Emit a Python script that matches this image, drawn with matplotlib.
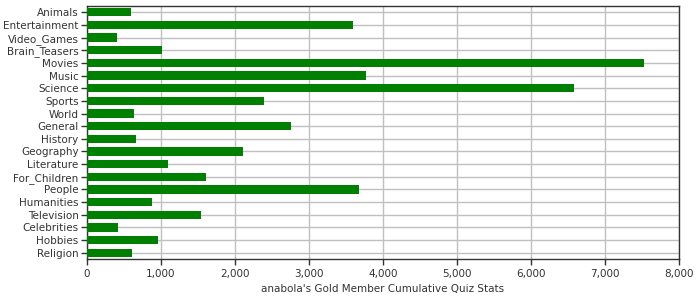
import matplotlib
matplotlib.use('Agg')
from matplotlib import pyplot as plt
from matplotlib.ticker import FuncFormatter

categories = ['Animals', 'Entertainment', 'Video_Games', 'Brain_Teasers', 'Movies',
              'Music', 'Science', 'Sports', 'World', 'General', 'History', 'Geography',
              'Literature', 'For_Children', 'People', 'Humanities', 'Television',
              'Celebrities', 'Hobbies', 'Religion']
values = [590, 3590, 405, 1009, 7527, 3766, 6581, 2392, 631, 2757, 658, 2108,
          1095, 1608, 3671, 878, 1541, 419, 959, 608]
x_ticks = [0, 1000, 2000, 3000, 4000, 5000, 6000, 7000, 8000]
x_label = "anabola's Gold Member Cumulative Quiz Stats"

TEXT = '#333333'
GRID = '#c0c0c0'
FS = 7.5

fig = plt.figure(figsize=(7, 3), dpi=100)
ax = fig.add_axes([87 / 700, 41 / 300, 592 / 700, 253 / 300])

pos = list(range(len(categories)))
ax.barh(pos, values, height=0.66, color='#008000', zorder=3)

ax.set_xlim(0, 8000)
ax.set_ylim(len(categories) - 0.5, -0.5)
ax.set_xticks(x_ticks)
ax.xaxis.set_major_formatter(FuncFormatter(lambda v, p: f'{int(v):,}'))
ax.set_yticks(pos)
ax.set_yticklabels(categories)

ax.grid(True, color=GRID, linewidth=1, zorder=0)
ax.set_axisbelow(True)
for s in ax.spines.values():
    s.set_color(TEXT)
    s.set_linewidth(1)
ax.tick_params(colors=TEXT, labelcolor=TEXT, labelsize=FS, length=4, width=1, pad=2)
ax.tick_params(axis='x', pad=3)
ax.set_xlabel(x_label, fontsize=FS, color=TEXT, labelpad=4)

fig.savefig('out.png', dpi=100)
